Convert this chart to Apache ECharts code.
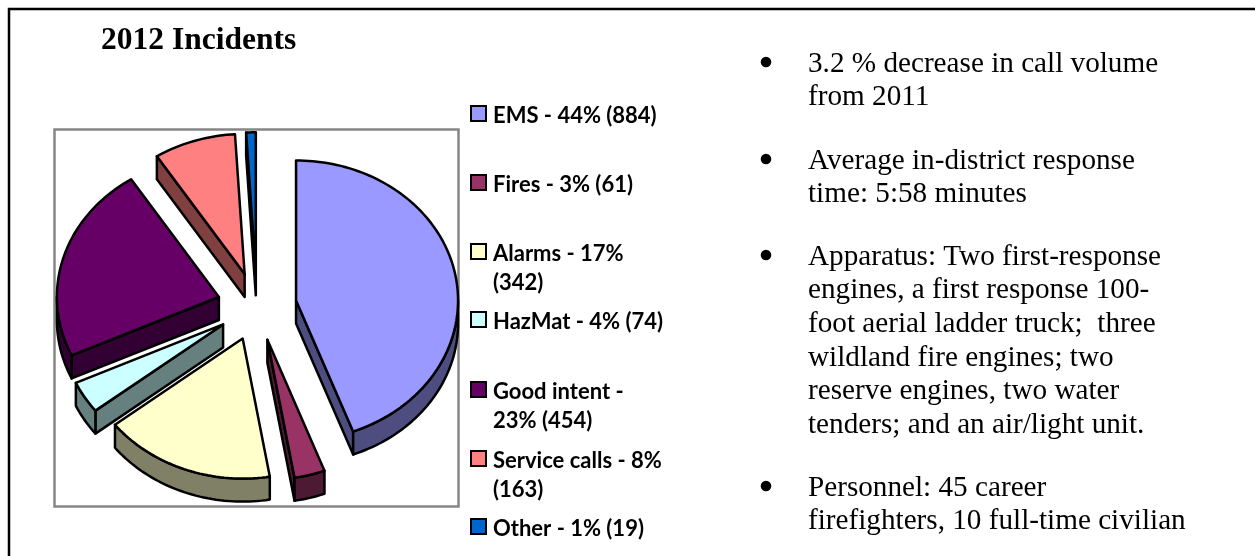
<!DOCTYPE html>
<html><head><meta charset="utf-8">
<style>html,body{margin:0;padding:0;background:#fff}#c{width:1255px;height:556px}</style>
<script src="https://cdn.jsdelivr.net/npm/echarts@6/dist/echarts.min.js"></script>
</head><body><div id="c"></div>
<script>
const categories = ['EMS','Fires','Alarms','HazMat','Good intent','Service calls','Other'];
const values = [884,61,342,74,454,163,19];
const topColors = ['#9999FF','#993366','#FFFFCC','#CCFFFF','#660066','#FF8080','#0066CC'];
const sideColors = ['#4D4D80','#4D1A33','#808066','#668080','#330033','#804040','#003366'];
const legendLines = [['EMS - 44% (884)'],['Fires - 3% (61)'],['Alarms - 17%','(342)'],['HazMat - 4% (74)'],['Good intent -','23% (454)'],['Service calls - 8%','(163)'],['Other - 1% (19)']];
const legendTops = [114,183,252,320,390,459,527];
const legendLineGap = 29.5;
const title = '2012 Incidents';
const bullets = [
 ['3.2 % decrease in call volume','from 2011'],
 ['Average in-district response','time: 5:58 minutes'],
 ['Apparatus: Two first-response','engines, a first response 100-','foot aerial ladder truck;  three','wildland fire engines; two','reserve engines, two water','tenders; and an air/light unit.'],
 ['Personnel: 45 career','firefighters, 10 full-time civilian']
];
const bulletTops = [62,159,255,486];
const bulletGap = 33.7;

const CX=257, CY=306.6, RX=162, RY=140, DEPTH=23, EXPLODE=0.245;
const total = values.reduce((a,b)=>a+b,0);
const rad = d=>d*Math.PI/180;
let acc=0;
const spans = values.map(v=>{const s=acc/total*360; acc+=v; return [s,acc/total*360];});
const pt=(ax,ay,deg,dy)=>[ax+RX*Math.sin(rad(deg)),ay-RY*Math.cos(rad(deg))+(dy||0)];
function arc(ax,ay,a,b,dy){const n=Math.max(2,Math.ceil(Math.abs(b-a)/1.5));const out=[];for(let i=0;i<=n;i++)out.push(pt(ax,ay,a+(b-a)*i/n,dy));return out;}
function renderItem(params,api){
  const i=api.value(1), s=spans[i][0], e=spans[i][1], m=(s+e)/2;
  const ax=CX+EXPLODE*RX*Math.sin(rad(m)), ay=CY-EXPLODE*RY*Math.cos(rad(m));
  const style={stroke:'#000',lineWidth:2.5,lineJoin:'round'};
  const kids=[];
  const wall=(p,q)=>kids.push({type:'polygon',shape:{points:[p,q,[q[0],q[1]+DEPTH],[p[0],p[1]+DEPTH]]},style:{...style,fill:sideColors[i]}});
  const a0=[ax,ay];
  if(s>180&&s<360) wall(a0,pt(ax,ay,s));
  if(e>0&&e<180) wall(a0,pt(ax,ay,e));
  const lo=Math.max(s,90), hi=Math.min(e,270);
  if(hi>lo){const top=arc(ax,ay,lo,hi),bot=arc(ax,ay,hi,lo,DEPTH);kids.push({type:'polygon',shape:{points:top.concat(bot)},style:{...style,fill:sideColors[i]}});}
  kids.push({type:'polygon',shape:{points:[a0].concat(arc(ax,ay,s,e))},style:{...style,fill:topColors[i]}});
  return {type:'group',children:kids};
}
const order=[6,5,4,3,2,1,0];
const graphic=[
 {type:'rect',shape:{x:9,y:9,width:1320,height:600},style:{fill:'none',stroke:'#000',lineWidth:2.5},z:0},
 {type:'rect',shape:{x:54.5,y:129.5,width:404,height:377},style:{fill:'#fff',stroke:'#868686',lineWidth:2.5},z:0},
 {type:'text',x:101,y:41,style:{text:title,font:'bold 31.5px "Liberation Serif"',fill:'#000',textVerticalAlign:'middle'}}
];
categories.forEach((c,i)=>{
  graphic.push({type:'rect',shape:{x:471,y:legendTops[i]-8,width:15,height:15},style:{fill:topColors[i],stroke:'#000',lineWidth:2}});
  legendLines[i].forEach((t,k)=>graphic.push({type:'text',x:493,y:legendTops[i]+1.5+k*legendLineGap,style:{text:t,font:'bold 22px Lato',fill:'#000',textVerticalAlign:'middle'}}));
});
bullets.forEach((b,i)=>{
  graphic.push({type:'circle',shape:{cx:766,cy:bulletTops[i],r:5.3},style:{fill:'#000'}});
  b.forEach((t,k)=>graphic.push({type:'text',x:808,y:bulletTops[i]+2+k*bulletGap,style:{text:t,font:'29.2px "Liberation Serif"',fill:'#000',textVerticalAlign:'middle'}}));
});
const chart=echarts.init(document.getElementById('c'),null,{renderer:'canvas'});
chart.setOption({animation:false,graphic:{elements:graphic},
 series:[{type:'custom',coordinateSystem:'none',silent:true,z:5,renderItem,
  data:order.map(i=>({name:categories[i],value:[values[i],i]}))}]});
</script></body></html>
